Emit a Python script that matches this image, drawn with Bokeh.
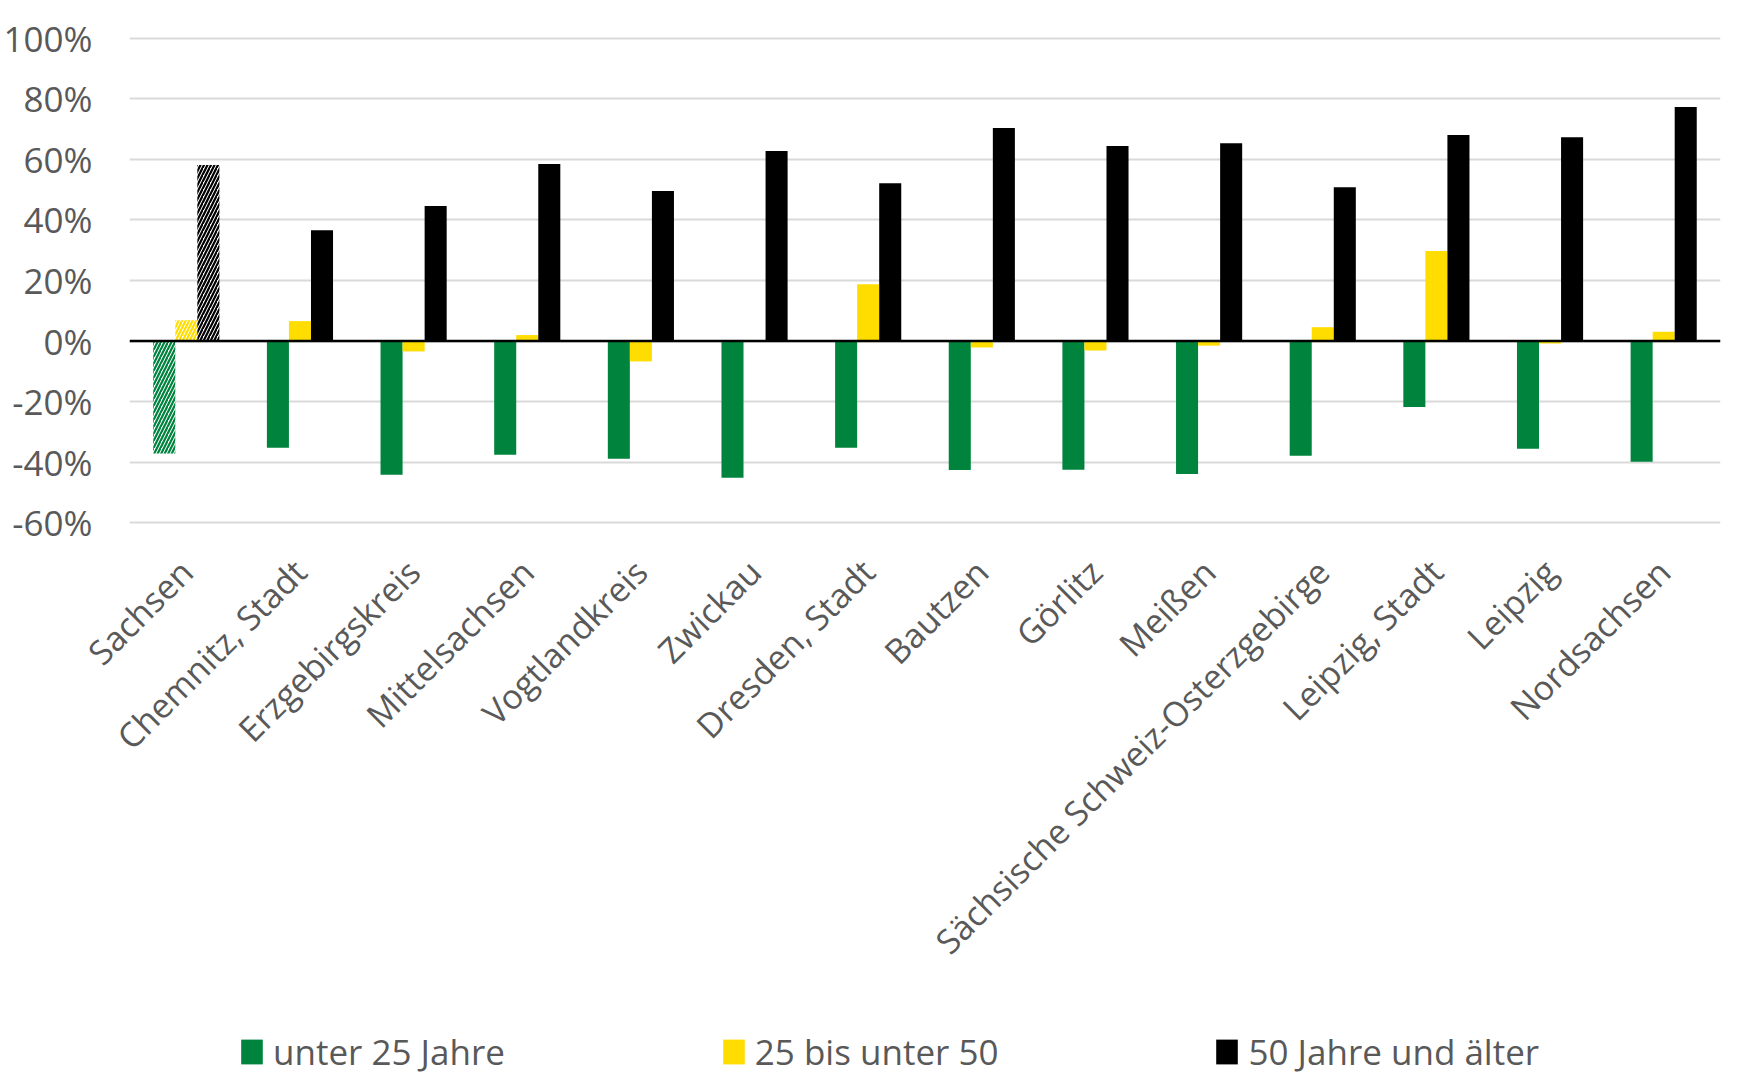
import math
from bokeh.plotting import figure
from bokeh.layouts import column
from bokeh.models import (ColumnDataSource, FactorRange, Range1d, FixedTicker,
                          NumeralTickFormatter, Span, Legend, LegendItem)
from bokeh.transform import dodge
from bokeh.embed import file_html
from bokeh.resources import INLINE

# ---------------- data ----------------
categories = ["Sachsen", "Chemnitz, Stadt", "Erzgebirgskreis", "Mittelsachsen",
              "Vogtlandkreis", "Zwickau", "Dresden, Stadt", "Bautzen", "Görlitz",
              "Meißen", "Sächsische Schweiz-Osterzgebirge", "Leipzig, Stadt",
              "Leipzig", "Nordsachsen"]
under_25 = [-0.371, -0.352, -0.441, -0.375, -0.388, -0.451, -0.352, -0.425,
            -0.424, -0.438, -0.378, -0.217, -0.355, -0.398]
age_25_50 = [0.069, 0.066, -0.034, 0.020, -0.067, 0.0, 0.188, -0.021,
             -0.031, -0.015, 0.046, 0.297, -0.008, 0.031]
over_50 = [0.581, 0.366, 0.446, 0.584, 0.495, 0.627, 0.521, 0.703,
           0.644, 0.653, 0.508, 0.680, 0.673, 0.772]
series_keys = ["u25", "m", "o50"]
series_labels = ["unter 25 Jahre", "25 bis unter 50", "50 Jahre und älter"]
series_colors = ["#00843D", "#FFDD00", "#000000"]
y_ticks = [-0.6, -0.4, -0.2, 0.0, 0.2, 0.4, 0.6, 0.8, 1.0]
n_highlight = 1  # first category (Sachsen) drawn hatched

FONT = "Open Sans"
TEXT = "#595959"

cols = dict(cat=categories, u25=under_25, m=age_25_50, o50=over_50)
src_main = ColumnDataSource({k: v[n_highlight:] for k, v in cols.items()})
src_hl = ColumnDataSource({k: v[:n_highlight] for k, v in cols.items()})

W = 1755
p = figure(x_range=FactorRange(*categories), y_range=Range1d(-0.605, 1.005),
           width=W, height=1000,
           min_border_left=129, min_border_right=35,
           min_border_top=36, min_border_bottom=476,
           output_backend="svg", toolbar_location=None)
p.outline_line_color = None
p.background_fill_color = "white"
p.border_fill_color = "white"

bar_w = 0.194
offsets = [-bar_w, 0.0, bar_w]
for key, col, off in zip(series_keys, series_colors, offsets):
    p.vbar(x=dodge("cat", off, range=p.x_range), top=key, bottom=0,
           width=bar_w, source=src_main, fill_color=col, line_color=None)
    p.vbar(x=dodge("cat", off, range=p.x_range), top=key, bottom=0,
           width=bar_w, source=src_hl, fill_color="white", line_color=None,
           hatch_pattern="/", hatch_color=col, hatch_scale=7, hatch_weight=2.2)

p.add_layout(Span(location=0, dimension="width", line_color="black", line_width=2.5))

# y axis
p.yaxis.ticker = FixedTicker(ticks=y_ticks)
p.yaxis.formatter = NumeralTickFormatter(format="0%")
p.yaxis.axis_line_color = None
p.yaxis.major_tick_line_color = None
p.yaxis.minor_tick_line_color = None
p.yaxis.major_tick_out = 0
p.yaxis.major_label_standoff = 37
p.yaxis.major_label_text_font = FONT
p.yaxis.major_label_text_font_size = "35px"
p.yaxis.major_label_text_color = TEXT

# x axis (rotated category labels)
p.xaxis.axis_line_color = None
p.xaxis.major_tick_line_color = None
p.xaxis.minor_tick_line_color = None
p.xaxis.major_tick_out = 0
p.xaxis.major_label_orientation = math.pi / 4
p.xaxis.major_label_standoff = 41
p.xaxis.major_label_text_font = FONT
p.xaxis.major_label_text_font_size = "34px"
p.xaxis.major_label_text_color = TEXT

p.xgrid.grid_line_color = None
p.ygrid.grid_line_color = "#D9D9D9"
p.ygrid.grid_line_width = 2

# ---------------- legend strip below the chart ----------------
# same series drawn on a y range that keeps the bars out of view; only the legend shows
pl = figure(width=W, height=79, x_range=FactorRange(*categories), y_range=Range1d(10, 11),
            x_axis_location=None, y_axis_location=None,
            min_border=0, min_border_left=0, min_border_right=0,
            min_border_top=0, min_border_bottom=0,
            output_backend="svg", toolbar_location=None)
pl.outline_line_color = None
pl.background_fill_color = "white"
pl.border_fill_color = "white"
pl.xgrid.visible = False
pl.ygrid.visible = False
leg_renderers = [pl.vbar(x="cat", top=key, bottom=0, width=bar_w, source=src_main,
                         fill_color=c, line_color=None)
                 for key, c in zip(series_keys, series_colors)]
legend = Legend(items=[LegendItem(label=l, renderers=[r])
                       for l, r in zip(series_labels, leg_renderers)],
                orientation="horizontal", location=(109, 4), spacing=215,
                glyph_width=27, glyph_height=31, label_standoff=8,
                padding=0, margin=0, border_line_color=None,
                background_fill_alpha=0, label_text_font=FONT,
                label_text_font_size="35px", label_text_color=TEXT)
pl.add_layout(legend)

layout = column(p, pl, spacing=0)
open("out.html", "w").write(file_html(layout, INLINE))
